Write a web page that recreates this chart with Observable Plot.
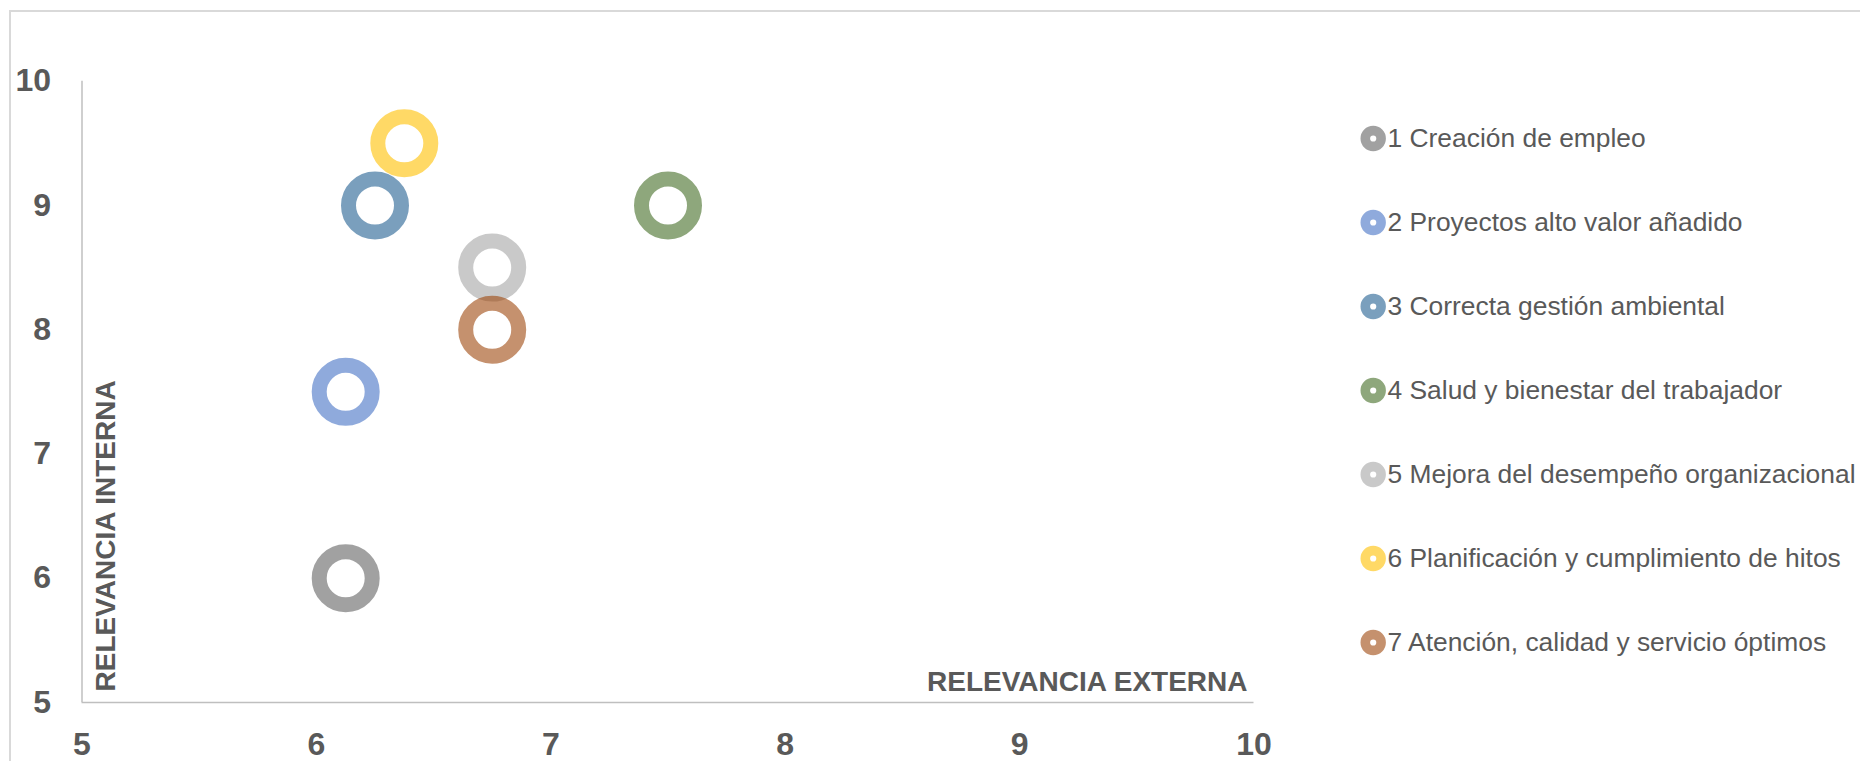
<!DOCTYPE html>
<html>
<head>
<meta charset="utf-8">
<script src="https://cdn.jsdelivr.net/npm/d3@7"></script>
<script src="https://cdn.jsdelivr.net/npm/@observablehq/plot@0.6"></script>
<style>
  html, body { margin: 0; padding: 0; background: #fff; overflow: hidden; }
  #wrap { position: relative; width: 1860px; height: 761px; overflow: hidden; }
  #frame { position: absolute; left: 9px; top: 10px; width: 1900px; height: 800px;
           border-top: 2px solid #d9d9d9; border-left: 2px solid #d9d9d9; }
  #chart { position: absolute; left: 0; top: 0; }
  #legend { position: absolute; left: 1340px; top: 0; }
</style>
</head>
<body>
<div id="wrap">
  <div id="frame"></div>
  <div id="chart"></div>
  <div id="legend"></div>
</div>
<script>
// Material topics: external relevance (x) vs internal relevance (y)
const names = [
  "1 Creación de empleo",
  "2 Proyectos alto valor añadido",
  "3 Correcta gestión ambiental",
  "4 Salud y bienestar del trabajador",
  "5 Mejora del desempeño organizacional",
  "6 Planificación y cumplimiento de hitos",
  "7 Atención, calidad y servicio óptimos"
];
const externa = [6.125, 6.125, 6.25, 7.5, 6.75, 6.375, 6.75];
const interna = [6, 7.5, 9, 9, 8.5, 9.5, 8];
const colors = ["#636363", "#4472C4", "#215F91", "#436C25", "#A5A5A5", "#FFC000", "#9E480E"];
const ticks = [5, 6, 7, 8, 9, 10];

const rows = names.map((name, i) => ({name, x: externa[i], y: interna[i]}));

const font = "'Liberation Sans', Arial, Helvetica, sans-serif";
const ink = "#595959";
const axisGray = "#bfbfbf";
const fmt = d3.format("d");

const chart = Plot.plot({
  width: 1300,
  height: 761,
  marginLeft: 81.5,
  marginRight: 46.5,
  marginTop: 80.7,
  marginBottom: 59,
  style: {fontFamily: font, background: "transparent", overflow: "visible"},
  x: {domain: [5, 10]},
  y: {domain: [5, 10]},
  color: {domain: names, range: colors},
  marks: [
    Plot.ruleX([5], {stroke: axisGray, strokeWidth: 1.5}),
    Plot.ruleY([5], {stroke: axisGray, strokeWidth: 1.5}),
    Plot.axisX(ticks, {tickSize: 0, tickPadding: 30, tickFormat: fmt, fontSize: 32, fontWeight: "bold", fill: ink, label: null}),
    Plot.axisY(ticks, {tickSize: 0, tickPadding: 31, tickFormat: fmt, fontSize: 32, fontWeight: "bold", fill: ink, label: null}),
    Plot.text(["RELEVANCIA EXTERNA"], {
      frameAnchor: "bottom-right", textAnchor: "end", lineAnchor: "bottom",
      dx: -6.5, dy: -12, fontSize: 28, fontWeight: "bold", fill: ink
    }),
    Plot.text(["RELEVANCIA INTERNA"], {
      frameAnchor: "bottom-left", textAnchor: "start", lineAnchor: "middle",
      rotate: -90, dx: 24.5, dy: -11, fontSize: 28, fontWeight: "bold", fill: ink
    }),
    Plot.dot(rows, {
      x: "x", y: "y", stroke: "name", r: 26.5, strokeWidth: 15,
      fill: "none", strokeOpacity: 0.6
    })
  ]
});
document.getElementById("chart").append(chart);

const legend = Plot.plot({
  width: 520,
  height: 761,
  margin: 0,
  style: {fontFamily: font, background: "transparent", overflow: "visible"},
  x: {domain: [0, 1], range: [32.7, 520], axis: null},
  y: {type: "point", domain: names, range: [136.7, 642.7], padding: 0, axis: null},
  color: {domain: names, range: colors},
  marks: [
    Plot.dot(rows, {x: () => 0, y: "name", stroke: "name", r: 7.9, strokeWidth: 9.6, fill: "none", strokeOpacity: 0.6}),
    Plot.text(rows, {x: () => 0, y: "name", text: "name", dx: 14.3, textAnchor: "start",
      lineAnchor: "middle", fontSize: 26.4, fill: ink})
  ]
});
document.getElementById("legend").append(legend);
</script>
</body>
</html>
